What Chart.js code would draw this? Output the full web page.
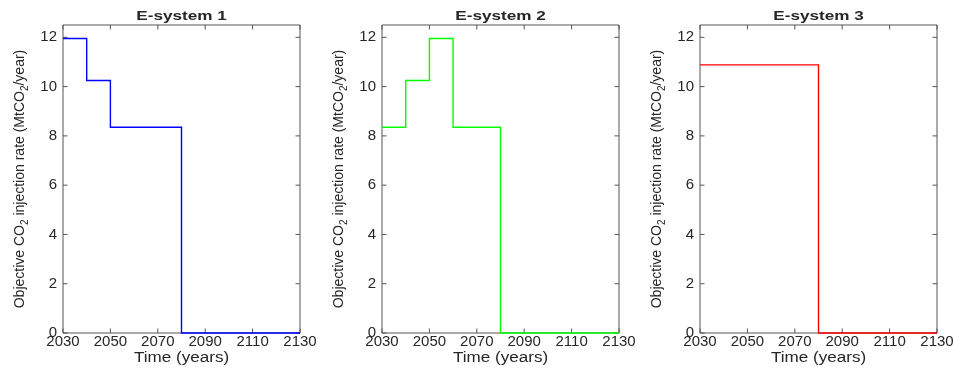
<!DOCTYPE html>
<html>
<head>
<meta charset="utf-8">
<script src="https://cdn.jsdelivr.net/npm/chart.js@4.4.1/dist/chart.umd.min.js"></script>
<style>
  html, body { margin: 0; padding: 0; background: #ffffff; }
  #wrap { position: relative; width: 955px; height: 381px; overflow: hidden; }
  .panel { position: absolute; top: 0; width: 318px; height: 381px; }
</style>
</head>
<body>
<div id="wrap">
  <div class="panel" style="left:0px"><canvas id="c1"></canvas></div>
  <div class="panel" style="left:319px"><canvas id="c2"></canvas></div>
  <div class="panel" style="left:637px"><canvas id="c3"></canvas></div>
</div>
<script>
// Start year of each ten-year injection period; the last period ends at horizonEnd.
const periodStart = [2030, 2040, 2050, 2060, 2070, 2080, 2090, 2100, 2110, 2120];
const horizonEnd = 2130;

// Objective CO2 injection rate per period (MtCO2/year)
const system1 = [11.95, 10.25, 8.35, 8.35, 8.35, 0, 0, 0, 0, 0];
const system2 = [8.35, 10.25, 11.95, 8.35, 8.35, 0, 0, 0, 0, 0];
const system3 = [10.88, 10.88, 10.88, 10.88, 10.88, 0, 0, 0, 0, 0];

const titles = ['E-system 1', 'E-system 2', 'E-system 3'];
const lineColors = ['#0000ff', '#00ff00', '#ff0000'];
const xTicks = [2030, 2050, 2070, 2090, 2110, 2130];
const yTicks = [0, 2, 4, 6, 8, 10, 12];
const xLabel = 'Time (years)';
// y label pieces: [text, isSubscript]
const yLabelParts = [
  ['Objective CO', false], ['2', true], [' injection rate (MtCO', false], ['2', true], ['/year)', false]
];

const FONT = '"Liberation Sans", Arial, Helvetica, sans-serif';
const INK = '#262626';
const AXIS = '#555555';

function stepPoints(values) {
  const pts = periodStart.map((x, i) => ({ x: x, y: values[i] }));
  pts.push({ x: horizonEnd, y: values[values.length - 1] });
  return pts;
}

function stretchedText(ctx, text, cx, y, sx) {
  ctx.save();
  ctx.translate(cx, y);
  ctx.scale(sx, 1);
  ctx.textAlign = 'center';
  ctx.textBaseline = 'alphabetic';
  ctx.fillText(text, 0, 0);
  ctx.restore();
}

// Axes box with inward tick marks on all four sides
const boxPlugin = {
  id: 'matlabBox',
  beforeDatasetsDraw(chart) {
    const { ctx, chartArea: a, scales } = chart;
    const L = 4.5;
    ctx.save();
    ctx.strokeStyle = AXIS;
    ctx.lineWidth = 1;
    ctx.beginPath();
    ctx.rect(a.left, a.top, a.right - a.left, a.bottom - a.top);
    xTicks.forEach(v => {
      const px = scales.x.getPixelForValue(v);
      ctx.moveTo(px, a.bottom); ctx.lineTo(px, a.bottom - L);
      ctx.moveTo(px, a.top); ctx.lineTo(px, a.top + L);
    });
    yTicks.forEach(v => {
      const py = scales.y.getPixelForValue(v);
      ctx.moveTo(a.left, py); ctx.lineTo(a.left + L, py);
      ctx.moveTo(a.right, py); ctx.lineTo(a.right - L, py);
    });
    ctx.stroke();
    ctx.restore();
  },
  afterDraw(chart, args, opts) {
    const { ctx, chartArea: a } = chart;
    const cx = (a.left + a.right) / 2;
    ctx.save();
    ctx.fillStyle = INK;
    // panel title
    ctx.font = 'bold 13.5px ' + FONT;
    stretchedText(ctx, opts.title, cx, 19.5, 1.27);
    // x axis title
    ctx.font = '14px ' + FONT;
    stretchedText(ctx, xLabel, cx, 361.5, 1.22);
    // y axis title with subscripts, rotated
    const big = '14px ' + FONT, small = '10px ' + FONT;
    let total = 0;
    yLabelParts.forEach(([t, sub]) => { ctx.font = sub ? small : big; total += ctx.measureText(t).width; });
    const cy = (a.top + a.bottom) / 2;
    ctx.translate(24, cy);
    ctx.scale(1.1, 1);
    ctx.rotate(-Math.PI / 2);
    ctx.textAlign = 'left';
    ctx.textBaseline = 'alphabetic';
    let x = -total / 2;
    yLabelParts.forEach(([t, sub]) => {
      ctx.font = sub ? small : big;
      ctx.fillText(t, x, sub ? 4 : 0);
      x += ctx.measureText(t).width;
    });
    ctx.restore();
  }
};

function makeChart(id, values, idx) {
  return new Chart(document.getElementById(id), {
    type: 'line',
    data: {
      datasets: [{
        data: stepPoints(values),
        stepped: true,
        borderColor: lineColors[idx],
        borderWidth: 1.4,
        pointRadius: 0,
        fill: false,
        clip: false
      }]
    },
    options: {
      responsive: true,
      maintainAspectRatio: false,
      animation: false,
      devicePixelRatio: 1,
      layout: { padding: { left: 0, right: 18, top: 25, bottom: 0 } },
      plugins: {
        legend: { display: false },
        tooltip: { enabled: false },
        matlabBox: { title: titles[idx] }
      },
      scales: {
        x: {
          type: 'linear',
          min: 2030,
          max: 2130,
          border: { display: false },
          grid: { display: false, drawTicks: false },
          afterBuildTicks: s => { s.ticks = xTicks.map(v => ({ value: v })); },
          afterFit: s => { s.height = 48; },
          ticks: {
            autoSkip: false, maxRotation: 0, padding: 0,
            color: INK,
            callback: v => String(v),
            font: { family: FONT, size: 15, lineHeight: 1.2 }
          }
        },
        y: {
          min: 0,
          max: 12.5,
          border: { display: false },
          grid: { display: false, drawTicks: false },
          afterBuildTicks: s => { s.ticks = yTicks.map(v => ({ value: v })); },
          afterFit: s => { s.width = 63; },
          ticks: {
            padding: 6,
            color: INK,
            callback: v => String(v),
            font: { family: FONT, size: 15 }
          }
        }
      }
    },
    plugins: [boxPlugin]
  });
}

makeChart('c1', system1, 0);
makeChart('c2', system2, 1);
makeChart('c3', system3, 2);
</script>
</body>
</html>
